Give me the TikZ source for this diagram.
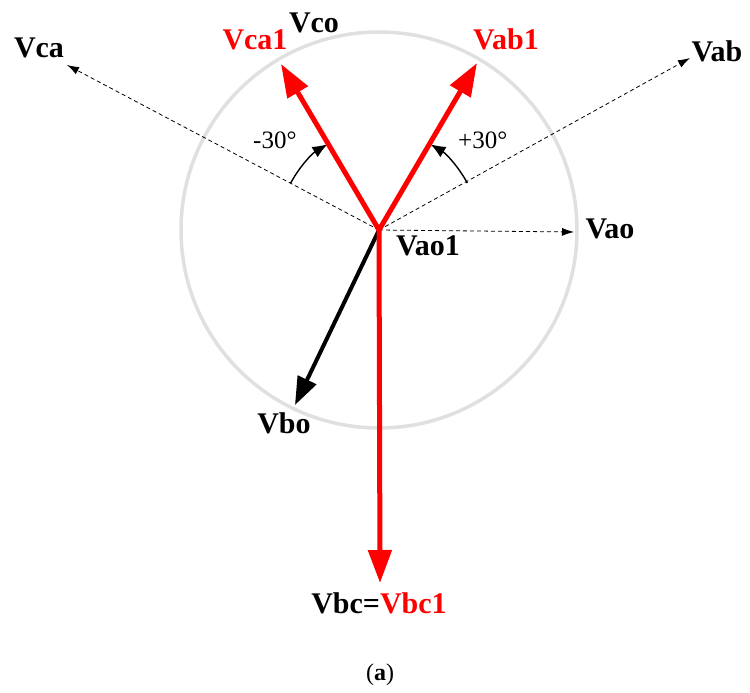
\documentclass[tikz,border=0pt]{standalone}
\usepackage{fontspec}
\setmainfont{Liberation Serif}
\usetikzlibrary{arrows.meta}
\definecolor{vred}{RGB}{255,0,0}
\tikzset{
  lab/.style={font=\fontsize{30}{35}\selectfont\bfseries, inner sep=0pt, anchor=base},
  anglab/.style={font=\fontsize{25}{29}\selectfont, inner sep=0pt, anchor=base west},
  redvec/.style={draw=vred, line width=5pt, -{Triangle[length=33pt,width=23pt]}},
  blackvec/.style={draw=black, line width=4pt, -{Triangle[length=28pt,width=20pt]}},
  dashvec/.style={draw=black, line width=0.8pt, dash pattern=on 4pt off 3pt, -{Latex[length=12pt,width=8pt]}},
  anglearc/.style={draw=black, line width=1.4pt, -{Latex[length=15pt,width=12pt]}},
  ring/.style={draw=black!12, line width=3.5pt}
}
\begin{document}
\begin{tikzpicture}[x=1pt,y=1pt]
\useasboundingbox (0,0) rectangle (750,-693);
\coordinate (O) at (379,-230);
\coordinate (tca1) at (281,-64);
\coordinate (tab1) at (477,-63);
\coordinate (tbc1) at (380,-583);
\coordinate (tbo) at (295,-405);
\coordinate (tab) at (690,-58);
\coordinate (tca) at (67,-65);
\coordinate (tao) at (574,-232);
% circle
\draw[ring] (O) circle[radius=198];
% dashed vectors
\draw[dashvec] (O) -- (tca);
\draw[dashvec] (O) -- (tab);
\draw[dashvec] (O) -- (tao);
% angle arcs
\draw[anglearc] ([shift={(152:100)}]O) arc[start angle=152, end angle=121, radius=100];
\draw[anglearc] ([shift={(28:100)}]O) arc[start angle=28, end angle=59, radius=100];
% solid vectors
\draw[blackvec] (O) -- (tbo);
\draw[redvec] (O) -- (tbc1);
\draw[redvec] (O) -- (tca1);
\draw[redvec] (O) -- (tab1);
% labels
\node[lab] (lca) at (39,-58) {Vca};
\node[lab, text=vred] (lca1) at (255,-50) {Vca1};
\node[lab] (lco) at (314,-33) {Vco};
\node[lab, text=vred] (lab1) at (506,-50) {Vab1};
\node[lab] (lab) at (717,-62) {Vab};
\node[lab] (lao1) at (428,-255) {Vao1};
\node[lab] (lao) at (610,-238) {Vao};
\node[lab] (lbo) at (284,-433) {Vbo};
\node[lab] (lbc) at (379,-613) {Vbc=\textcolor{vred}{Vbc1}};
\node[anglab] (am) at (253,-148) {-30°};
\node[anglab] (ap) at (458,-148) {+30°};
\node[font=\fontsize{24}{28}\selectfont, inner sep=0pt, anchor=base] (cap) at (380,-680) {(\textbf{a})};
\end{tikzpicture}
\end{document}
